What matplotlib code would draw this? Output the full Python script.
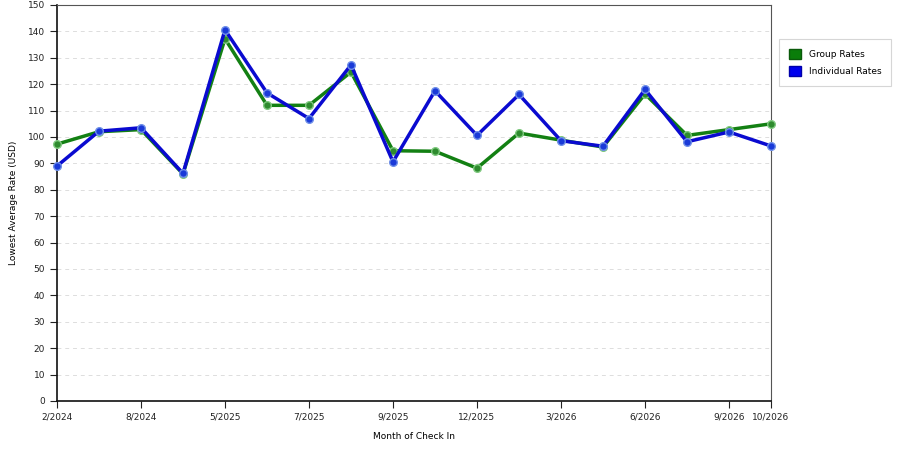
import numpy as np
import matplotlib.pyplot as plt
from matplotlib.patches import Patch

months = ["2/2024", "5/2024", "8/2024", "12/2024", "5/2025", "6/2025",
          "7/2025", "8/2025", "9/2025", "10/2025", "12/2025", "2/2026",
          "3/2026", "5/2026", "6/2026", "8/2026", "9/2026", "10/2026"]
group_rates = [97.3, 102, 102.8, 86, 137.2, 112, 112, 124.6, 94.8, 94.6,
               88.2, 101.5, 98.8, 96.2, 116.3, 100.6, 102.8, 105]
indiv_rates = [89, 102.2, 103.5, 86.2, 140.6, 116.7, 107, 127.3, 90.6, 117.5,
               100.6, 116.1, 98.6, 96.5, 118, 98.2, 101.9, 96.6]
shown = ["2/2024", "8/2024", "5/2025", "7/2025", "9/2025", "12/2025",
         "3/2026", "6/2026", "9/2026", "10/2026"]

plt.rcParams['font.family'] = ['DejaVu Sans']

fig = plt.figure(figsize=(9, 4.5), dpi=100)
ax = fig.add_axes([57 / 900, 1 - 401 / 450, 714 / 900, 396 / 450])

x = np.arange(len(months))
ax.plot(x, group_rates, color='#138013', lw=2.5, marker='o', ms=5.5,
        mfc='#2e8b2e', mec='#7fc97f', mew=1.0, clip_on=False, zorder=3)
ax.plot(x, indiv_rates, color='#0a0ad0', lw=2.5, marker='o', ms=5.5,
        mfc='#1a3ad8', mec='#6f8fe8', mew=1.0, clip_on=False, zorder=4)

ax.set_xlim(0, len(months) - 1)
ax.set_ylim(0, 150)
ax.set_yticks(np.arange(0, 151, 10))
tick_pos = [months.index(m) for m in shown]
ax.set_xticks(tick_pos)
ax.set_xticklabels(shown)
ax.tick_params(axis='both', labelsize=6.5, colors='#222222', direction='out',
               length=5, width=0.8)
ax.tick_params(axis='x', pad=3)

ax.yaxis.grid(True, ls=(0, (4, 4)), color='#dddddd', lw=0.7)
ax.set_axisbelow(True)
for s in ['top', 'right']:
    ax.spines[s].set_color('#555555')
    ax.spines[s].set_linewidth(0.8)
for s in ['left', 'bottom']:
    ax.spines[s].set_color('#111111')
    ax.spines[s].set_linewidth(1.2)

ax.set_ylabel("Lowest Average Rate (USD)", fontsize=6.5)
ax.yaxis.set_label_coords(-39 / 714, 0.5)
ax.set_xlabel("Month of Check In", fontsize=6.5, labelpad=8)

handles = [Patch(facecolor='#0a7d0a', edgecolor='#0a5a0a', label='Group Rates'),
           Patch(facecolor='#0000ee', edgecolor='#0000aa', label='Individual Rates')]
leg = fig.legend(handles=handles, loc='upper left',
                 bbox_to_anchor=(779 / 900, 1 - 39 / 450), borderaxespad=0,
                 fontsize=6.5, frameon=True, fancybox=False,
                 edgecolor='#cccccc', handlelength=1.3, handleheight=1.4,
                 borderpad=1.1, labelspacing=0.7, handletextpad=0.9)
leg.get_frame().set_linewidth(0.8)

fig.savefig("out.png", dpi=100)
